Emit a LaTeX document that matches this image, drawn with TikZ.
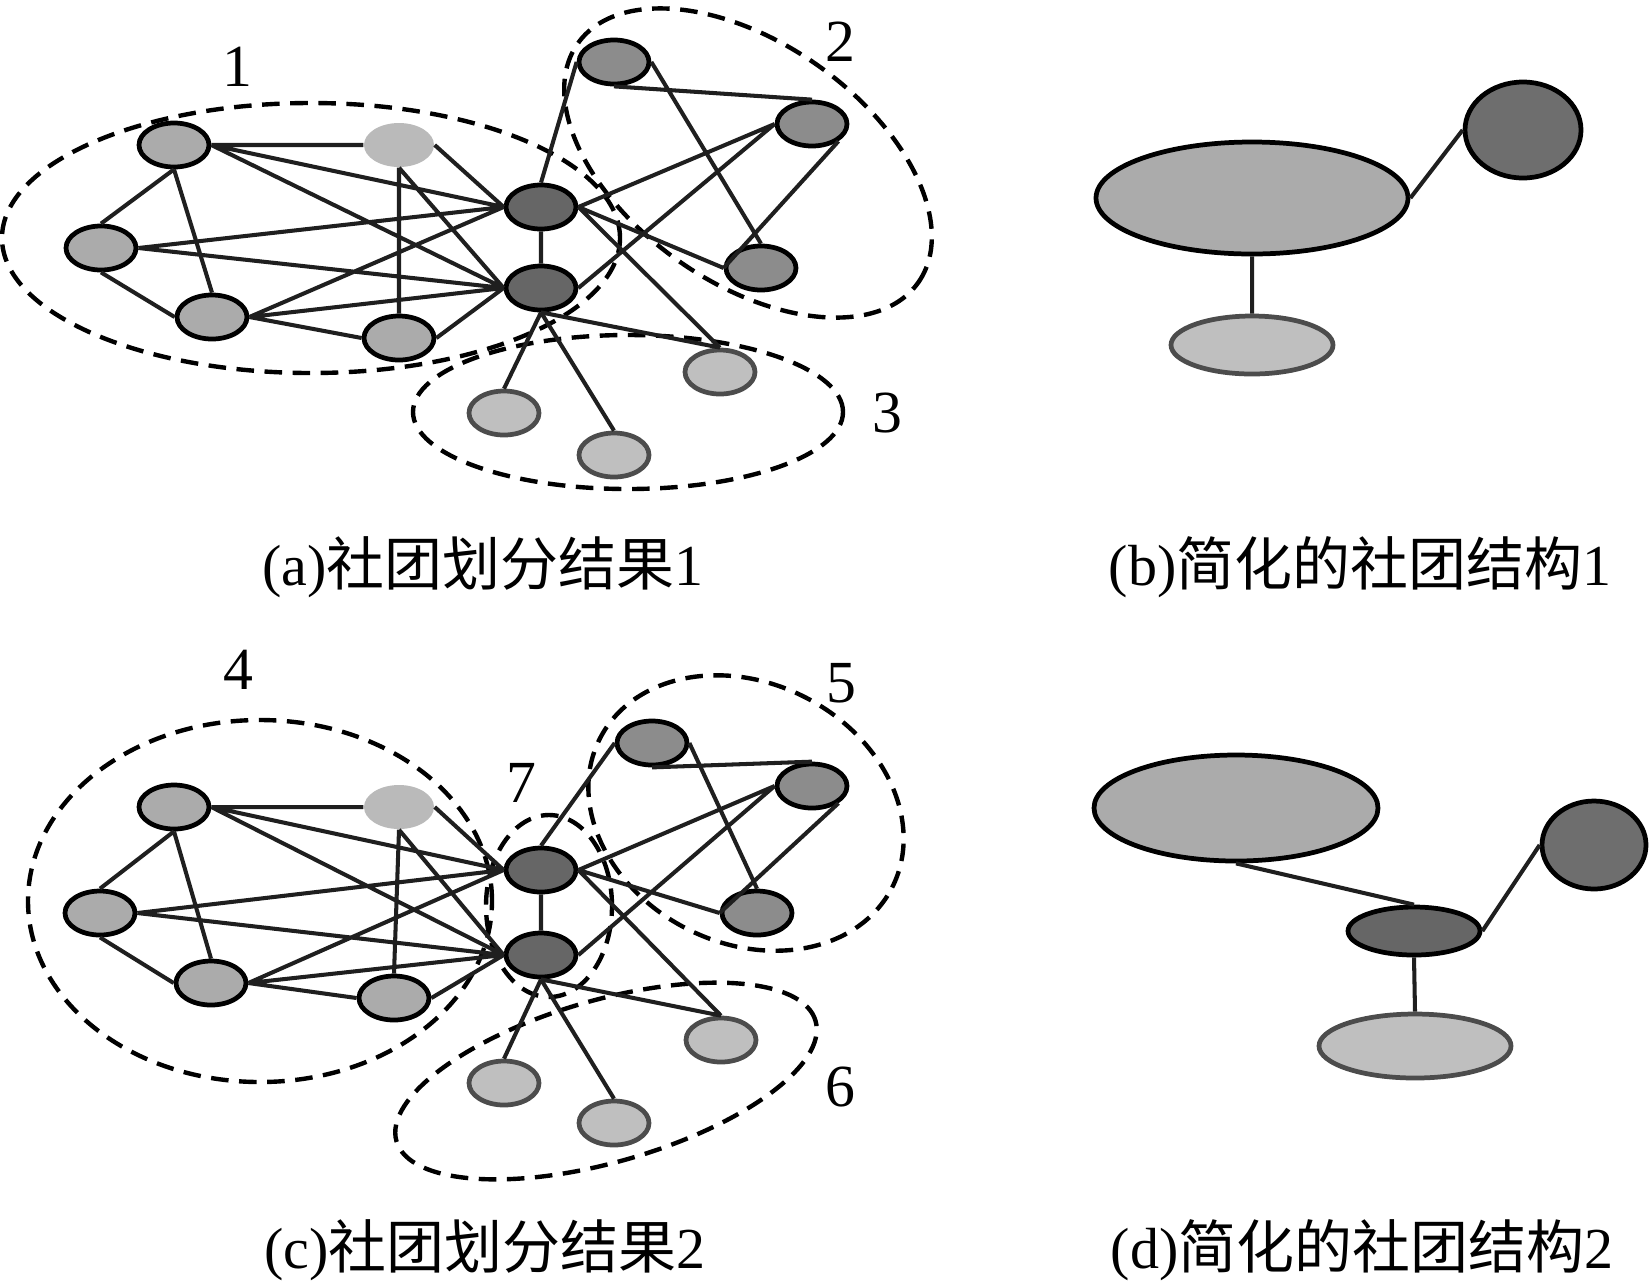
\documentclass[tikz,border=0pt]{standalone}
\usepackage{fontspec}
\setmainfont{Liberation Serif}
\newfontfamily\cjk{Noto Sans CJK SC}
\usepackage{tikz}
\usetikzlibrary{shapes.geometric}
\definecolor{memberfill}{gray}{0.67}
\definecolor{palefill}{gray}{0.73}
\definecolor{groupfill}{gray}{0.55}
\definecolor{hubfill}{gray}{0.40}
\definecolor{leaffill}{gray}{0.75}
\definecolor{leafline}{gray}{0.30}

\begin{document}
\begin{tikzpicture}[
  blob/.style={ellipse, inner sep=0pt, minimum width=0.70cm, minimum height=0.44cm},
  member/.style={blob, draw=black, line width=1.35pt, fill=memberfill},
  pale/.style={blob, fill=palefill},
  inner/.style={blob, draw=black, line width=1.35pt, fill=groupfill},
  hub/.style={blob, draw=black, line width=1.35pt, fill=hubfill},
  leaf/.style={blob, draw=leafline, line width=1.35pt, fill=leaffill},
  link/.style={line width=1.15pt, black!88},
  group/.style={line width=1.25pt, dash pattern=on 5pt off 3pt},
  num/.style={font=\fontsize{17}{20}\selectfont, inner sep=0pt},
  caption/.style={font=\fontsize{16.5}{20}\selectfont, inner sep=0pt},
  cluster/.style={ellipse, inner sep=0pt, line width=1.35pt}
]
\useasboundingbox (0, 0) rectangle (16.49, -12.84);

% (a) communities, first split
\draw[group] (3.11, -2.38) ellipse [x radius=3.09, y radius=1.35];
\draw[group, rotate around={-35:(7.48, -1.63)}] (7.48, -1.63) ellipse [x radius=2.08, y radius=1.20];
\draw[group] (6.28, -4.12) ellipse [x radius=2.15, y radius=0.77];

\node at (1.74, -1.45) (A1) [member] {};
\node at (3.99, -1.45) (B1) [pale] {};
\node at (1.01, -2.48) (C1) [member] {};
\node at (2.12, -3.17) (D1) [member] {};
\node at (3.99, -3.38) (E1) [member] {};
\node at (6.14, -0.62) (F1) [inner] {};
\node at (8.12, -1.24) (G1) [inner] {};
\node at (7.61, -2.68) (H1) [inner] {};
\node at (5.41, -2.07) (P1) [hub] {};
\node at (5.41, -2.88) (Q1) [hub] {};
\node at (7.20, -3.72) (R1) [leaf] {};
\node at (5.04, -4.13) (S1) [leaf] {};
\node at (6.14, -4.55) (T1) [leaf] {};

\draw[link] (A1.east) -- (B1.west) (A1.east) -- (P1.west) (A1.east) -- (Q1.west)
  (A1.south) -- (C1.north) (A1.south) -- (D1.north)
  (B1.east) -- (P1.west) (B1.south) -- (E1.north) (B1.south) -- (Q1.west)
  (C1.east) -- (P1.west) (C1.east) -- (Q1.west) (C1.south) -- (D1.west)
  (D1.east) -- (P1.west) (D1.east) -- (Q1.west) (D1.east) -- (E1.west)
  (E1.east) -- (Q1.west) (P1.south) -- (Q1.north)
  (P1.north) -- (F1.west) (P1.east) -- (G1.west) (P1.east) -- (H1.west) (P1.east) -- (R1.north)
  (Q1.east) -- (G1.west) (Q1.south) -- (R1.north) (Q1.south) -- (S1.north) (Q1.south) -- (T1.north)
  (F1.south) -- (G1.north) (F1.east) -- (H1.north) (G1.south east) -- (H1.west);

\node at (2.37, -0.67) (lab1) [num] {1};
\node at (8.40, -0.42) (lab2) [num] {2};
\node at (8.87, -4.13) (lab3) [num] {3};

% (c) communities, second split
\draw[group] (2.60, -9.01) ellipse [x radius=2.32, y radius=1.81];
\draw[group, rotate around={-27:(7.46, -8.13)}] (7.46, -8.13) ellipse [x radius=1.64, y radius=1.30];
\draw[group, rotate around={16:(6.06, -10.81)}] (6.06, -10.81) ellipse [x radius=2.18, y radius=0.81];
\draw[group] (5.49, -9.06) ellipse [x radius=0.63, y radius=0.91];

\node at (1.74, -8.07) (A2) [member] {};
\node at (3.99, -8.07) (B2) [pale] {};
\node at (1.00, -9.13) (C2) [member] {};
\node at (2.11, -9.83) (D2) [member] {};
\node at (3.94, -9.98) (E2) [member] {};
\node at (6.52, -7.43) (F2) [inner] {};
\node at (8.12, -7.86) (G2) [inner] {};
\node at (7.57, -9.13) (H2) [inner] {};
\node at (5.41, -8.70) (P2) [hub] {};
\node at (5.41, -9.55) (Q2) [hub] {};
\node at (7.21, -10.40) (R2) [leaf] {};
\node at (5.04, -10.83) (S2) [leaf] {};
\node at (6.14, -11.23) (T2) [leaf] {};

\draw[link] (A2.east) -- (B2.west) (A2.east) -- (P2.west) (A2.east) -- (Q2.west)
  (A2.south) -- (C2.north) (A2.south) -- (D2.north)
  (B2.east) -- (P2.west) (B2.south) -- (E2.north) (B2.south) -- (Q2.west)
  (C2.east) -- (P2.west) (C2.east) -- (Q2.west) (C2.south) -- (D2.west)
  (D2.east) -- (P2.west) (D2.east) -- (Q2.west) (D2.east) -- (E2.west)
  (E2.east) -- (Q2.west) (P2.south) -- (Q2.north)
  (P2.north) -- (F2.west) (P2.east) -- (G2.west) (P2.east) -- (H2.west) (P2.east) -- (R2.north)
  (Q2.east) -- (G2.west) (Q2.south) -- (R2.north) (Q2.south) -- (S2.north) (Q2.south) -- (T2.north)
  (F2.south) -- (G2.north) (F2.east) -- (H2.north) (G2.south east) -- (H2.west);

\node at (2.38, -6.70) (lab4) [num] {4};
\node at (8.41, -6.83) (lab5) [num] {5};
\node at (8.40, -10.87) (lab6) [num] {6};
\node at (5.21, -7.83) (lab7) [num] {7};

% (b) and (d) reduced structure
\node at (12.52, -1.98) (bigB) [cluster, draw=black, fill=memberfill, minimum width=3.12cm, minimum height=1.12cm] {};
\node at (15.23, -1.30) (darkB) [cluster, draw=black, fill=hubfill!95!white, minimum width=1.16cm, minimum height=0.96cm] {};
\node at (12.52, -3.45) (lightB) [cluster, draw=leafline, fill=leaffill, minimum width=1.62cm, minimum height=0.58cm] {};
\draw[link] (bigB.east) -- (darkB.west) (bigB.south) -- (lightB.north);

\node at (12.36, -8.08) (bigD) [cluster, draw=black, fill=memberfill, minimum width=2.84cm, minimum height=1.06cm] {};
\node at (15.94, -8.45) (darkD) [cluster, draw=black, fill=hubfill!95!white, minimum width=1.04cm, minimum height=0.88cm] {};
\node at (14.14, -9.31) (midD) [cluster, draw=black, fill=hubfill, minimum width=1.32cm, minimum height=0.48cm] {};
\node at (14.15, -10.46) (lightD) [cluster, draw=leafline, fill=leaffill, minimum width=1.92cm, minimum height=0.64cm] {};
\draw[link] (bigD.south) -- (midD.north) (midD.east) -- (darkD.west) (midD.south) -- (lightD.north);

% captions
\node at (4.83, -5.67) (capA) [caption] {(a){\cjk 社团划分结果}1};
\node at (13.60, -5.67) (capB) [caption] {(b){\cjk 简化的社团结构}1};
\node at (4.85, -12.50) (capC) [caption] {(c){\cjk 社团划分结果}2};
\node at (13.62, -12.50) (capD) [caption] {(d){\cjk 简化的社团结构}2};
\end{tikzpicture}
\end{document}
